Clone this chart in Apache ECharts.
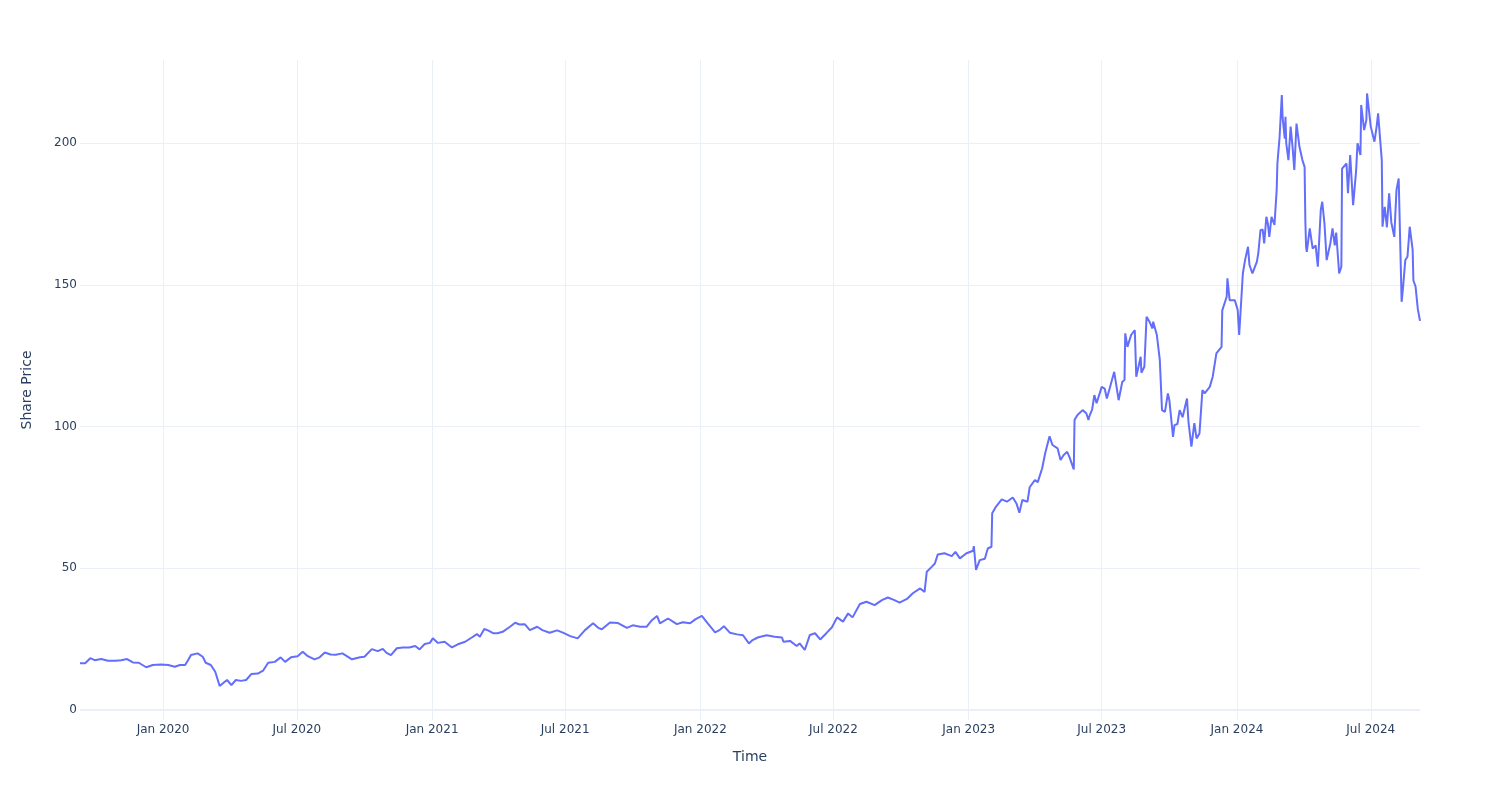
<!DOCTYPE html>
<html>
<head>
<meta charset="utf-8">
<script src="https://cdn.jsdelivr.net/npm/echarts@6/dist/echarts.min.js"></script>
<style>
  html, body { margin: 0; padding: 0; background: #ffffff; }
  #chart { width: 1500px; height: 800px; }
</style>
</head>
<body>
<div id="chart"></div>
<script>
// ---- Data ----
const xTitle = 'Time';
const yTitle = 'Share Price';
const monthNames = ['Jan','Feb','Mar','Apr','May','Jun','Jul','Aug','Sep','Oct','Nov','Dec'];
const xStart = '2019-09-10';
const xEnd = '2024-09-06';
const yTicks = [0, 50, 100, 150, 200];

const prices2019 = [
  ['2019-09-10',16.5],['2019-09-17',16.5],['2019-09-24',18.3],['2019-09-30',17.6],['2019-10-09',18.0],
  ['2019-10-18',17.4],['2019-10-28',17.4],['2019-11-05',17.6],['2019-11-13',18.0],['2019-11-21',16.8],
  ['2019-11-29',16.7],['2019-12-09',15.1],['2019-12-18',15.9],['2019-12-29',16.1]
];
const prices2020 = [
  ['2020-01-08',15.9],['2020-01-17',15.3],['2020-01-24',15.9],['2020-01-31',15.9],['2020-02-04',17.6],
  ['2020-02-08',19.4],['2020-02-17',20.0],['2020-02-24',18.8],['2020-02-28',16.7],['2020-03-06',15.9],
  ['2020-03-12',13.5],['2020-03-18',8.5],['2020-03-25',10.0],['2020-03-28',10.6],['2020-04-03',8.8],
  ['2020-04-09',10.6],['2020-04-16',10.3],['2020-04-23',10.6],['2020-04-30',12.7],['2020-05-09',12.9],
  ['2020-05-16',13.9],['2020-05-23',16.7],['2020-06-01',17.0],['2020-06-09',18.6],['2020-06-15',17.0],
  ['2020-06-23',18.6],['2020-07-02',19.0],['2020-07-09',20.6],['2020-07-16',19.0],['2020-07-25',17.9],
  ['2020-08-01',18.6],['2020-08-08',20.3],['2020-08-16',19.6],['2020-08-23',19.5],['2020-09-01',20.0],
  ['2020-09-14',17.9],['2020-09-25',18.6],['2020-10-01',18.8],['2020-10-11',21.5],['2020-10-19',20.8],
  ['2020-10-26',21.6],['2020-10-31',20.2],['2020-11-06',19.4],['2020-11-14',21.8],['2020-11-22',22.1],
  ['2020-12-01',22.1],['2020-12-09',22.6],['2020-12-15',21.4],['2020-12-22',23.3],['2020-12-29',23.7]
];
const prices2021 = [
  ['2021-01-02',25.3],['2021-01-09',23.7],['2021-01-18',24.1],['2021-01-28',22.1],['2021-02-05',23.2],
  ['2021-02-15',24.1],['2021-02-24',25.6],['2021-03-03',26.8],['2021-03-07',25.9],['2021-03-13',28.6],
  ['2021-03-18',28.1],['2021-03-25',27.1],['2021-03-31',27.1],['2021-04-07',27.6],['2021-04-17',29.4],
  ['2021-04-24',30.8],['2021-04-30',30.2],['2021-05-07',30.3],['2021-05-14',28.2],['2021-05-24',29.4],
  ['2021-05-31',28.2],['2021-06-10',27.3],['2021-06-20',28.1],['2021-06-28',27.3],['2021-07-08',26.1],
  ['2021-07-18',25.3],['2021-07-28',28.2],['2021-08-08',30.6],['2021-08-15',29.0],['2021-08-20',28.5],
  ['2021-08-31',30.9],['2021-09-11',30.7],['2021-09-23',29.0],['2021-10-01',29.9],['2021-10-11',29.4],
  ['2021-10-20',29.4],['2021-10-27',31.7],['2021-11-03',33.2],['2021-11-07',30.6],['2021-11-18',32.3],
  ['2021-11-30',30.3],['2021-12-08',31.0],['2021-12-18',30.6],['2021-12-25',32.0]
];
const prices2022 = [
  ['2022-01-03',33.2],['2022-01-11',30.6],['2022-01-21',27.4],['2022-01-27',28.2],['2022-02-02',29.6],
  ['2022-02-10',27.3],['2022-02-20',26.7],['2022-02-28',26.4],['2022-03-08',23.5],['2022-03-13',24.7],
  ['2022-03-20',25.6],['2022-04-01',26.4],['2022-04-12',25.9],['2022-04-22',25.6],['2022-04-24',24.1],
  ['2022-05-03',24.4],['2022-05-12',22.6],['2022-05-16',23.5],['2022-05-23',21.2],['2022-05-30',26.5],
  ['2022-06-06',27.1],['2022-06-13',24.9],['2022-06-22',27.3],['2022-06-29',29.2],['2022-07-06',32.7],
  ['2022-07-14',31.2],['2022-07-21',34.1],['2022-07-27',32.7],['2022-08-06',37.4],['2022-08-15',38.2],
  ['2022-08-26',37.0],['2022-09-05',38.8],['2022-09-13',39.7],['2022-09-22',38.8],['2022-09-29',37.9],
  ['2022-10-09',39.2],['2022-10-17',41.2],['2022-10-27',42.9],['2022-11-02',41.7],['2022-11-05',48.8],
  ['2022-11-12',50.6],['2022-11-16',51.7],['2022-11-20',54.9],['2022-11-29',55.3],['2022-12-09',54.3],
  ['2022-12-14',55.8],['2022-12-20',53.5],['2022-12-29',55.3]
];
const prices2023 = [
  ['2023-01-07',56.2],['2023-01-08',57.8],['2023-01-11',49.4],['2023-01-16',52.9],['2023-01-23',53.4],
  ['2023-01-27',57.0],['2023-02-01',57.6],['2023-02-02',69.4],['2023-02-07',71.7],['2023-02-15',74.3],
  ['2023-02-22',73.5],['2023-03-02',75.0],['2023-03-07',72.9],['2023-03-11',69.6],['2023-03-15',74.1],
  ['2023-03-22',73.5],['2023-03-25',78.6],['2023-04-01',81.1],['2023-04-05',80.4],['2023-04-11',85.3],
  ['2023-04-15',90.5],['2023-04-21',96.6],['2023-04-25',93.5],['2023-05-02',92.3],['2023-05-06',88.2],
  ['2023-05-10',89.9],['2023-05-15',91.1],['2023-05-18',89.3],['2023-05-24',84.9],['2023-05-25',102.3],
  ['2023-05-29',104.1],['2023-06-05',105.8],['2023-06-10',104.7],['2023-06-13',102.3],['2023-06-14',103.5],
  ['2023-06-18',106.1],['2023-06-21',111.1],['2023-06-24',108.2],['2023-07-01',114.0],['2023-07-05',113.4],
  ['2023-07-08',109.9],['2023-07-13',114.6],['2023-07-18',119.3],['2023-07-24',109.3],['2023-07-29',115.8],
  ['2023-08-01',116.4],['2023-08-02',132.9],['2023-08-05',128.1],['2023-08-10',132.3],['2023-08-15',134.0],
  ['2023-08-17',117.6],['2023-08-23',124.6],['2023-08-24',119.0],['2023-08-28',121.1],['2023-08-31',138.7],
  ['2023-09-04',137.0],['2023-09-08',134.6],['2023-09-09',137.0],['2023-09-14',132.3],['2023-09-18',123.5],
  ['2023-09-21',105.8],['2023-09-25',105.2],['2023-09-29',111.7],['2023-10-01',109.3],['2023-10-06',96.4],
  ['2023-10-08',100.5],['2023-10-12',100.9],['2023-10-15',105.8],['2023-10-19',103.3],['2023-10-25',109.9],
  ['2023-10-27',101.7],['2023-10-31',92.9],['2023-11-04',101.2],['2023-11-07',95.8],['2023-11-11',97.6],
  ['2023-11-15',112.9],['2023-11-18',111.7],['2023-11-25',114.0],['2023-11-29',117.6],['2023-12-04',125.8],
  ['2023-12-11',128.1],['2023-12-12',141.0],['2023-12-18',145.8],['2023-12-19',152.3],['2023-12-22',144.6],
  ['2023-12-29',144.6]
];
const prices2024 = [
  ['2024-01-02',141.1],['2024-01-04',132.3],['2024-01-09',154.0],['2024-01-12',158.7],['2024-01-16',163.4],
  ['2024-01-18',157.0],['2024-01-22',154.0],['2024-01-28',158.1],['2024-01-30',161.1],['2024-02-02',169.3],
  ['2024-02-05',169.5],['2024-02-07',164.6],['2024-02-10',174.0],['2024-02-12',171.6],['2024-02-14',166.9],
  ['2024-02-17',174.0],['2024-02-21',171.1],['2024-02-24',183.4],['2024-02-25',192.8],['2024-02-28',202.2],
  ['2024-03-02',216.9],['2024-03-03',209.3],['2024-03-06',201.6],['2024-03-07',209.3],['2024-03-08',200.0],
  ['2024-03-11',194.0],['2024-03-14',205.8],['2024-03-17',197.5],['2024-03-19',190.5],['2024-03-22',206.9],
  ['2024-03-26',198.7],['2024-03-30',194.0],['2024-04-02',191.6],['2024-04-03',172.8],['2024-04-04',163.4],
  ['2024-04-05',161.6],['2024-04-09',169.9],['2024-04-13',162.8],['2024-04-17',163.9],['2024-04-20',156.4],
  ['2024-04-24',176.4],['2024-04-26',179.3],['2024-04-29',171.7],['2024-05-02',158.7],['2024-05-07',164.6],
  ['2024-05-10',169.9],['2024-05-13',163.9],['2024-05-15',168.4],['2024-05-19',154.0],['2024-05-22',156.4],
  ['2024-05-23',191.0],['2024-05-29',192.8],['2024-05-31',182.3],['2024-06-03',195.8],['2024-06-07',178.1],
  ['2024-06-11',189.9],['2024-06-13',199.9],['2024-06-17',195.8],['2024-06-18',213.4],['2024-06-22',204.6],
  ['2024-06-25',208.1],['2024-06-26',217.5],['2024-07-01',205.8],['2024-07-06',200.5],['2024-07-09',205.8],
  ['2024-07-11',210.5],['2024-07-16',194.0],['2024-07-17',170.5],['2024-07-20',177.5],['2024-07-23',170.3],
  ['2024-07-26',182.3],['2024-07-29',172.0],['2024-08-02',166.9],['2024-08-05',183.4],['2024-08-08',187.5],
  ['2024-08-12',144.0],['2024-08-14',149.3],['2024-08-17',158.7],['2024-08-20',160.0],['2024-08-23',170.5],
  ['2024-08-27',162.3],['2024-08-28',151.6],['2024-08-31',149.3],['2024-09-03',141.5],['2024-09-06',137.3]
];

const seriesData = [].concat(prices2019, prices2020, prices2021, prices2022, prices2023, prices2024);

// ---- Chart ----
const FONT = 'DejaVu Sans';
const TEXT = '#2a3f5f';
const GRID = '#EBF0F8';
const HALF_YEAR = 183 * 24 * 3600 * 1000;

const chart = echarts.init(document.getElementById('chart'), null, { renderer: 'canvas' });
chart.setOption({
  animation: false,
  backgroundColor: '#ffffff',
  textStyle: { fontFamily: FONT },
  grid: { left: 80, right: 80, top: 60, bottom: 80, containLabel: false },
  xAxis: {
    type: 'time',
    min: xStart,
    max: xEnd,
    minInterval: HALF_YEAR,
    maxInterval: HALF_YEAR,
    name: xTitle,
    nameLocation: 'middle',
    nameGap: 30,
    nameTextStyle: { color: TEXT, fontSize: 14, fontFamily: FONT },
    axisLine: { show: false },
    axisTick: { show: false },
    axisLabel: {
      color: TEXT, fontSize: 12, fontFamily: FONT, margin: 4,
      showMinLabel: false, showMaxLabel: false, hideOverlap: false,
      formatter: function (v) {
        const d = new Date(v);
        return monthNames[d.getMonth()] + ' ' + d.getFullYear();
      }
    },
    splitLine: { show: true, showMinLine: false, showMaxLine: false, lineStyle: { color: GRID, width: 1 } }
  },
  yAxis: {
    type: 'value',
    min: -3.5,
    max: 229.3,
    name: yTitle,
    nameLocation: 'middle',
    nameRotate: 90,
    nameGap: 46,
    nameTextStyle: { color: TEXT, fontSize: 14, fontFamily: FONT },
    axisLine: { show: false },
    axisTick: { show: false },
    axisLabel: {
      color: TEXT, fontSize: 12, fontFamily: FONT, margin: 3,
      showMinLabel: false, showMaxLabel: false,
      formatter: function (v) { return yTicks.indexOf(v) >= 0 ? String(v) : ''; }
    },
    splitLine: { show: true, showMinLine: false, showMaxLine: false, lineStyle: { color: GRID, width: 1 } }
  },
  series: [{
    type: 'line',
    data: seriesData,
    showSymbol: false,
    symbol: 'none',
    lineStyle: { color: '#636efa', width: 2 },
    itemStyle: { color: '#636efa' },
    markLine: {
      silent: true,
      symbol: 'none',
      label: { show: false },
      lineStyle: { color: GRID, width: 2, type: 'solid' },
      data: [{ yAxis: 0 }],
      z: 1
    }
  }]
});
</script>
</body>
</html>
